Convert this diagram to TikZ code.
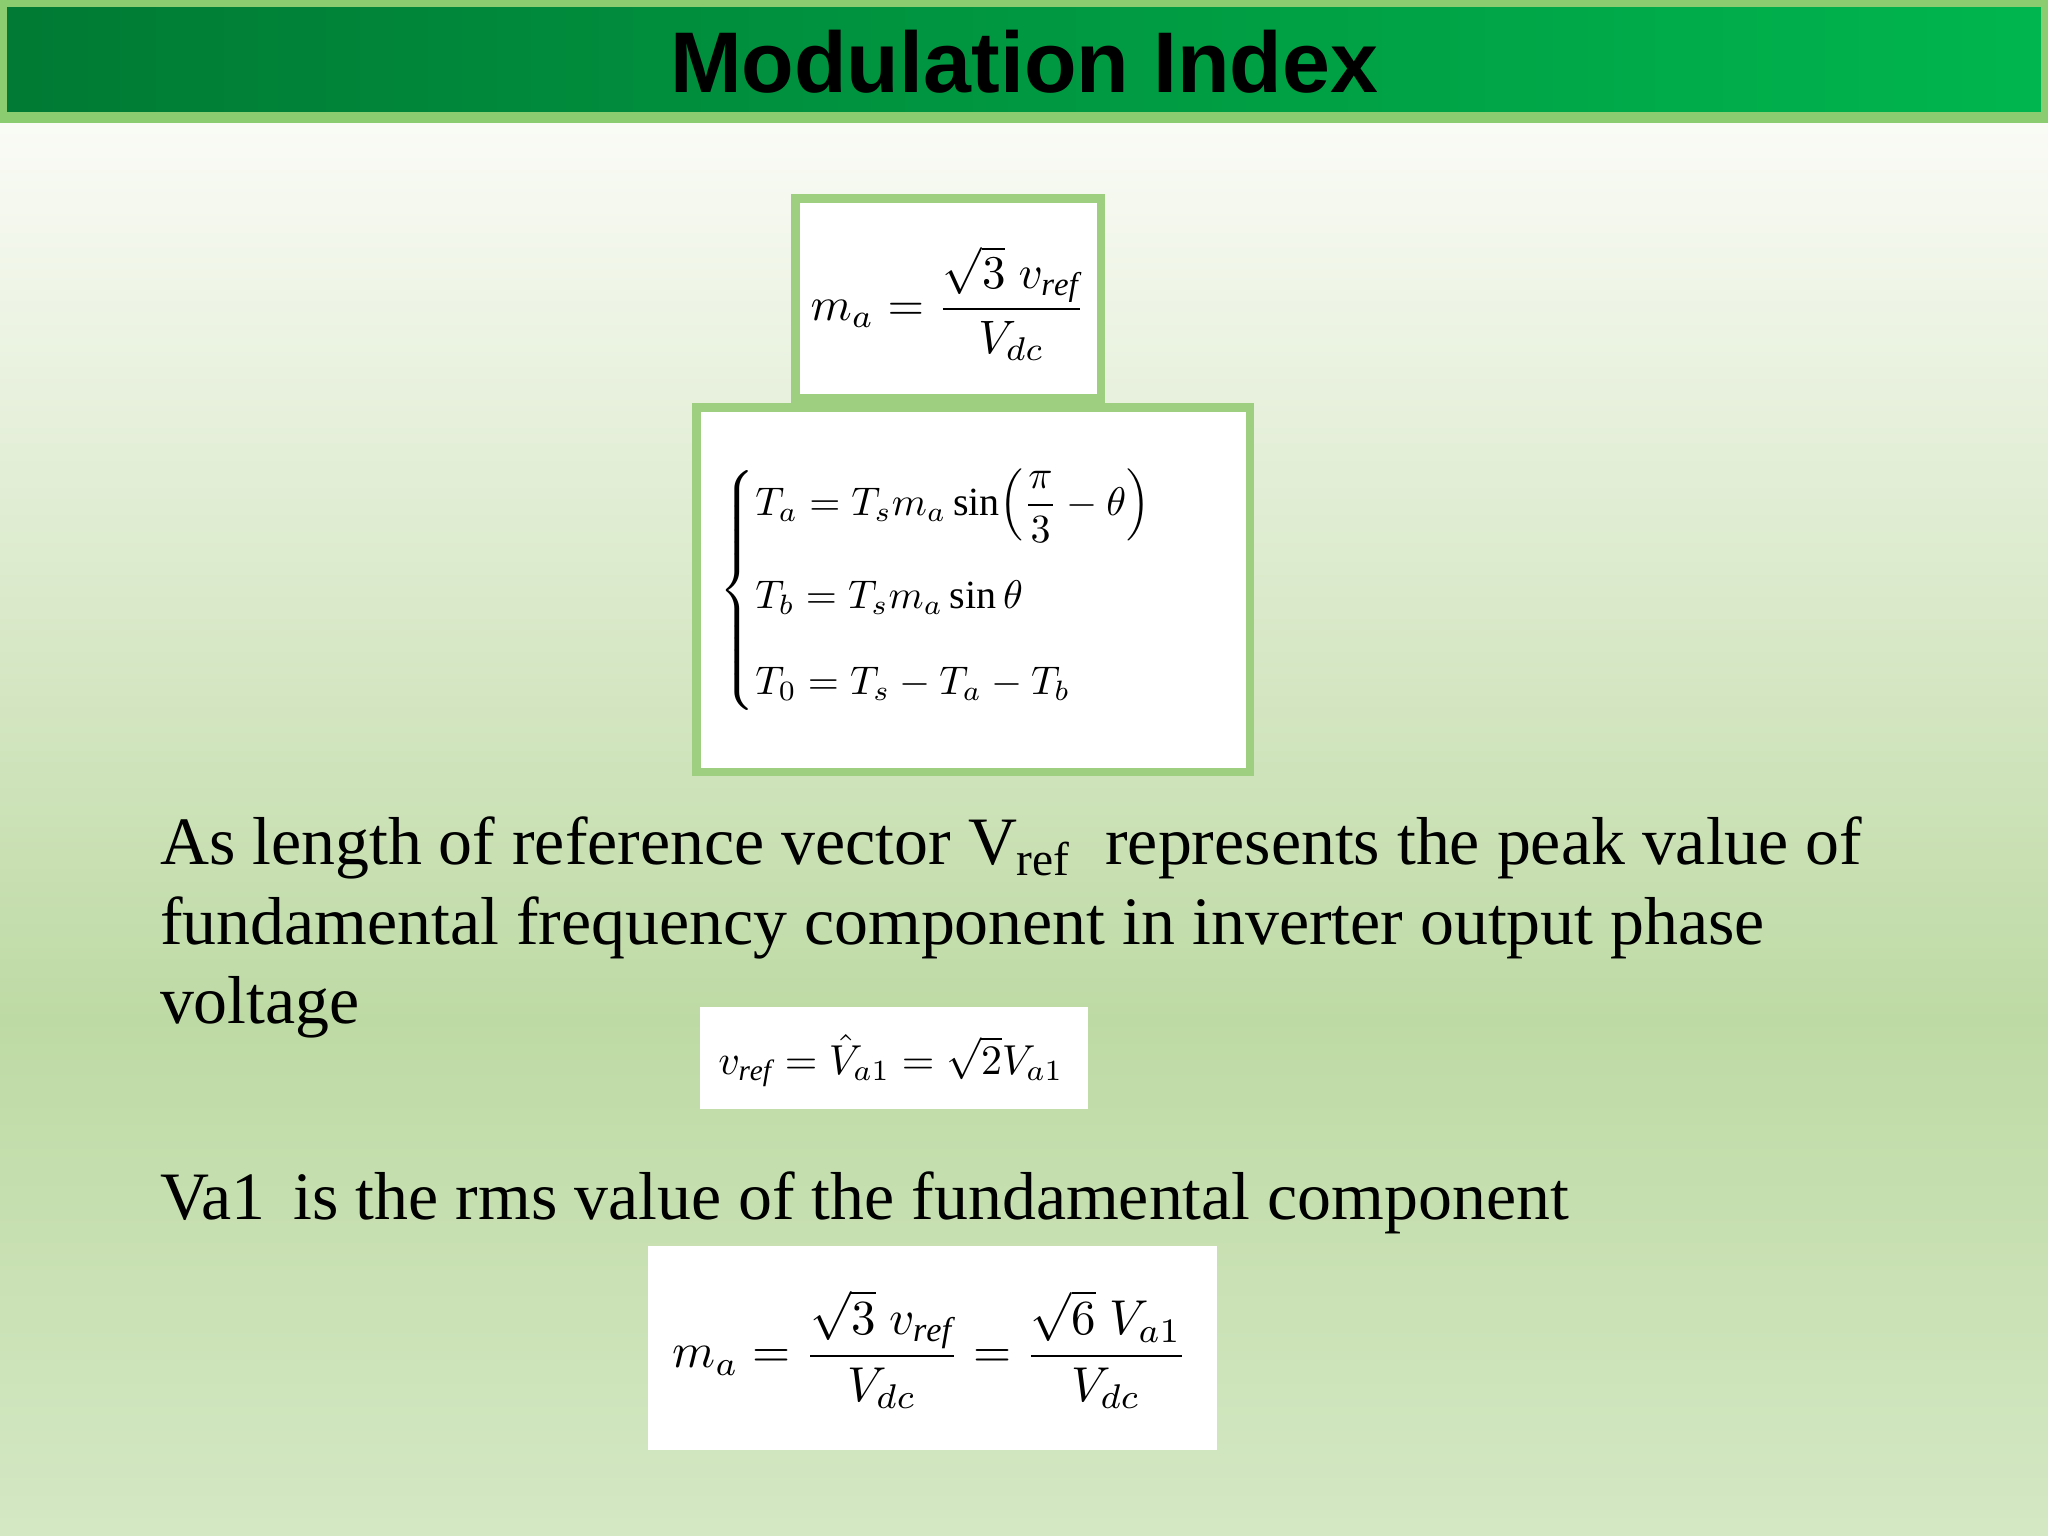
\documentclass[tikz,border=0pt]{standalone}
\usepackage{amsmath}
\usepackage{graphicx}
\usepackage{fontspec}
\setmainfont{Liberation Serif}
\setsansfont{Liberation Sans}
\definecolor{bgtop}{RGB}{250,251,246}
\definecolor{bgmid}{RGB}{190,218,164}
\definecolor{bgbot}{RGB}{212,232,196}
\definecolor{bardark}{RGB}{0,122,52}
\definecolor{barlight}{RGB}{0,182,78}
\definecolor{barborder}{RGB}{140,204,112}
\definecolor{boxborder}{RGB}{158,206,128}
\tikzset{
  fbox/.style={draw=boxborder,line width=2.5pt,fill=white,inner sep=0pt},
  wbox/.style={fill=white},
  body/.style={anchor=base west,inner sep=0pt,font=\fontsize{19.3}{23}\selectfont}
}
\begin{document}
\begin{tikzpicture}[x=0.013061cm,y=-0.013061cm]
\useasboundingbox (0,0) rectangle (1568,1176);
\shade[top color=bgtop,bottom color=bgmid] (0,92) rectangle (1568,780);
\shade[top color=bgmid,bottom color=bgbot] (0,780) rectangle (1568,1176);
\shade[left color=bardark,right color=barlight,draw=barborder,line width=3pt] (1.5,1.5) rectangle (1566.5,90);
\node[font=\sffamily\bfseries\fontsize{24.5}{28}\selectfont] (title) at (784,47) {Modulation Index};
% box 1
\draw[fbox] (609,152) rectangle (843,305);
\node (f1) at (726,232) {\resizebox{2.75cm}{!}{$m_a=\dfrac{\sqrt{3}\;v_{\mathit{ref}}}{V_{dc}}$}};
% box 2
\draw[fbox] (533,312) rectangle (957,591);
\node (f2) at (733,452) {\resizebox{4.75cm}{!}{$\begin{cases}T_a = T_s m_a \sin\!\left(\dfrac{\pi}{3}-\theta\right)\\[9pt] T_b = T_s m_a \sin\theta\\[7pt] T_0 = T_s - T_a - T_b\end{cases}$}};
% text
\node[body] (t1) at (122,662) {As length of reference vector V\textsubscript{ref}\ \ represents the peak value of};
\node[body] (t2) at (122,723) {fundamental frequency component in inverter output phase};
\node[body] (t3) at (122,784) {voltage};
\fill[wbox] (536,771) rectangle (833,849);
\node (f3) at (682,812) {\resizebox{3.45cm}{!}{$v_{\mathit{ref}}=\hat{V}_{a1}=\sqrt{2}V_{a1}$}};
\node[body] (t4) at (122,934) {Va1\, is the rms value of the fundamental component};
\fill[wbox] (496,954) rectangle (932,1110);
\node (f4) at (712,1033) {\resizebox{5.15cm}{!}{$m_a=\dfrac{\sqrt{3}\;v_{\mathit{ref}}}{V_{dc}}=\dfrac{\sqrt{6}\;V_{a1}}{V_{dc}}$}};
\end{tikzpicture}
\end{document}
